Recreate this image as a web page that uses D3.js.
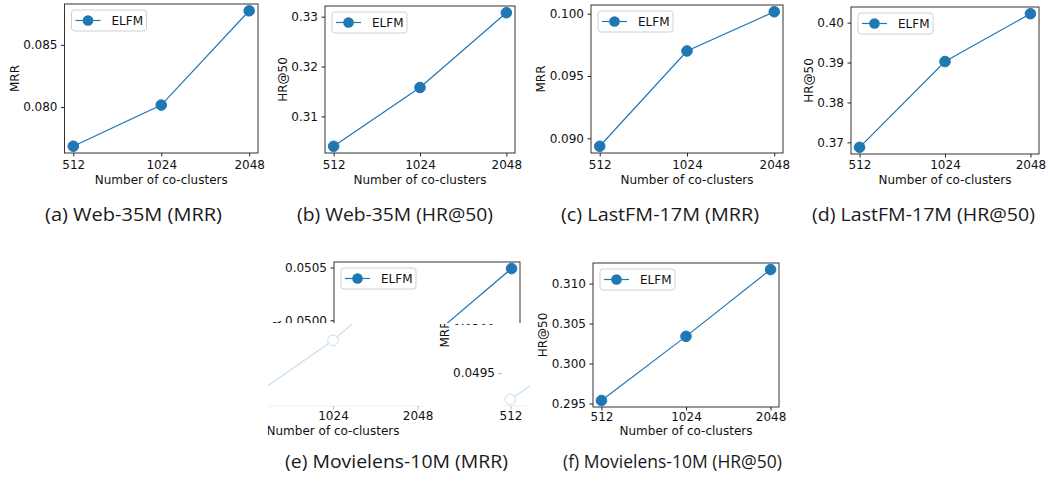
<!DOCTYPE html>
<html lang="en">
<head>
    <meta charset="UTF-8">
    <title>co-clusters</title>
    <style>
        body{
            margin:0px;
            background-color: white;
        }
        svg{
            display: block;
        }
        text{
            font-family: "DejaVu Sans", sans-serif;
        }
    </style>
</head>
<body>
    <svg></svg>

    <script src="https://d3js.org/d3.v7.min.js"></script>
    <script>
        // data
        const categories = ['512', '1024', '2048'];

        const webMRR = [0.07685, 0.08016, 0.08774];
        const webHR = [0.3040, 0.3158, 0.3308];
        const lastfmMRR = [0.08936, 0.09701, 0.10016];
        const lastfmHR = [0.36875, 0.39025, 0.40225];
        const mlMRR = [0.04925, 0.04981, 0.05049];
        const mlHR = [0.29538, 0.30340, 0.31176];

        const webMRRTicks = ['0.080', '0.085'];
        const webHRTicks = ['0.31', '0.32', '0.33'];
        const lastfmMRRTicks = ['0.090', '0.095', '0.100'];
        const lastfmHRTicks = ['0.37', '0.38', '0.39', '0.40'];
        const mlMRRTicks = ['0.0495', '0.0500', '0.0505'];
        const mlHRTicks = ['0.295', '0.300', '0.305', '0.310'];

        const yLabels = ['MRR', 'HR@50', 'MRR', 'HR@50', 'MRR', 'HR@50'];
        const captions = ['(a) Web-35M (MRR)', '(b) Web-35M (HR@50)', '(c) LastFM-17M (MRR)',
                          '(d) LastFM-17M (HR@50)', '(e) Movielens-10M (MRR)', '(f) Movielens-10M (HR@50)'];
        const seriesName = 'ELFM';

        const blue = '#1f77b4';

        let svg = d3.select('svg')
            .attr('width', 1048)
            .attr('height', 481);

        // panel boxes (layout only)
        const panels = [
            {values: webMRR, ticks: webMRRTicks, left: 64.5, right: 258, top: 4, bottom: 153, tickPad: 3.5, xlabelY: 183.5, capX: 133.5, capY: 221, capW: 177},
            {values: webHR, ticks: webHRTicks, left: 325, right: 515, top: 6, bottom: 153, tickPad: 3.5, xlabelY: 183.5, capX: 395, capY: 221, capW: 196},
            {values: lastfmMRR, ticks: lastfmMRRTicks, left: 591, right: 783, top: 5, bottom: 153, tickPad: 3.5, xlabelY: 183.5, capX: 660, capY: 221, capW: 198},
            {values: lastfmHR, ticks: lastfmHRTicks, left: 851, right: 1039, top: 7, bottom: 154, tickPad: 3, xlabelY: 183.5, capX: 923.5, capY: 221, capW: 223},
            {values: mlMRR, ticks: mlMRRTicks, left: 334, right: 520, top: 262, bottom: 406, tickPad: 2, xlabelY: 434.5, capX: 396.5, capY: 468, capW: 223},
            {values: mlHR, ticks: mlHRTicks, left: 593, right: 779, top: 263, bottom: 407, tickPad: 2, xlabelY: 434.5, capX: 672.5, capY: 468, capW: 219}
        ];
        panels.forEach((p, i) => { p.ylabel = yLabels[i]; p.caption = captions[i]; });

        function drawPanel(g, p, faded) {
            const x = d3.scalePoint()
                .domain(categories)
                .range([p.left, p.right])
                .padding(0.1);

            const ext = d3.extent(p.values);
            const pad = (ext[1] - ext[0]) * 0.05;
            const y = d3.scaleLinear()
                .domain([ext[0] - pad, ext[1] + pad])
                .range([p.bottom, p.top]);

            const tickColor = faded ? '#bbb' : '#222';

            // frame
            if (faded) {
                g.append('line')
                    .attr('x1', p.left).attr('x2', p.right)
                    .attr('y1', p.bottom).attr('y2', p.bottom)
                    .attr('stroke', '#eee');
            } else {
                g.append('rect')
                    .attr('x', p.left).attr('y', p.top)
                    .attr('width', p.right - p.left).attr('height', p.bottom - p.top)
                    .attr('fill', 'none')
                    .attr('stroke', '#333')
                    .attr('stroke-width', 1);
            }

            // y axis
            const yAxis = g.append('g')
                .attr('transform', `translate(${p.left},0)`)
                .call(d3.axisLeft(y)
                    .tickValues(p.ticks.map(Number))
                    .tickFormat((d, i) => p.ticks[i])
                    .tickSize(3.5)
                    .tickPadding(3.5));
            yAxis.select('.domain').remove();
            yAxis.selectAll('line').attr('stroke', tickColor);
            yAxis.selectAll('text')
                .attr('font-family', '"DejaVu Sans", sans-serif')
                .attr('font-size', 12)
                .attr('fill', '#111');

            // x axis
            const xAxis = g.append('g')
                .attr('transform', `translate(0,${p.bottom})`)
                .call(d3.axisBottom(x).tickSize(3.5).tickPadding(p.tickPad));
            xAxis.select('.domain').remove();
            xAxis.selectAll('line').attr('stroke', tickColor);
            xAxis.selectAll('text')
                .attr('font-family', '"DejaVu Sans", sans-serif')
                .attr('font-size', 12)
                .attr('fill', '#111');

            // axis labels
            const bx = yAxis.node().getBBox().x + p.left;
            g.append('text')
                .attr('transform', `translate(${bx - 4.5},${(p.top + p.bottom) / 2}) rotate(-90)`)
                .attr('text-anchor', 'middle')
                .attr('font-size', 12)
                .attr('fill', '#111')
                .text(p.ylabel);

            g.append('text')
                .attr('x', (p.left + p.right) / 2)
                .attr('y', p.xlabelY)
                .attr('text-anchor', 'middle')
                .attr('font-size', 12)
                .attr('fill', '#111')
                .text('Number of co-clusters');

            // line + markers
            const line = d3.line()
                .x((d, i) => x(categories[i]))
                .y(d => y(d));

            g.append('path')
                .datum(p.values)
                .attr('d', line)
                .attr('fill', 'none')
                .attr('stroke', faded ? '#c9def0' : blue)
                .attr('stroke-width', 1.2);

            g.selectAll('circle.pt')
                .data(p.values)
                .enter()
                .append('circle')
                .attr('class', 'pt')
                .attr('cx', (d, i) => x(categories[i]))
                .attr('cy', d => y(d))
                .attr('r', 5.3)
                .attr('fill', faded ? 'white' : blue)
                .attr('stroke', faded ? '#c9def0' : blue)
                .attr('stroke-width', 1);

            // legend
            const lx = p.left + 7, ly = p.top + 6;
            const leg = g.append('g').attr('transform', `translate(${lx},${ly})`);
            leg.append('rect')
                .attr('width', 75).attr('height', 21)
                .attr('rx', 3)
                .attr('fill', 'white')
                .attr('stroke', '#d0d0d0');
            leg.append('line')
                .attr('x1', 4).attr('x2', 29)
                .attr('y1', 10.5).attr('y2', 10.5)
                .attr('stroke', blue).attr('stroke-width', 1.2);
            leg.append('circle')
                .attr('cx', 16.5).attr('cy', 10.5).attr('r', 5.3)
                .attr('fill', blue);
            leg.append('text')
                .attr('x', 40).attr('y', 15)
                .attr('font-size', 12)
                .attr('fill', '#111')
                .text(seriesName);
        }

        // drop texts that end up (almost) fully outside a clip box
        function prune(g, x0, y0, x1, y1) {
            g.selectAll('text').each(function() {
                const r = this.getBoundingClientRect();
                if (r.right < x0 + 4 || r.left > x1 - 4 || r.bottom < y0 || r.top > y1) {
                    d3.select(this).remove();
                }
            });
        }

        const defs = svg.append('defs');
        defs.append('clipPath').attr('id', 'eTop')
            .append('rect').attr('x', 262).attr('y', 240).attr('width', 270).attr('height', 83);
        defs.append('clipPath').attr('id', 'eLow')
            .append('rect').attr('x', 268).attr('y', 324).attr('width', 262).attr('height', 124);

        panels.forEach((p, i) => {
            if (i === 4) {
                // this panel is broken in the source image: the lower part is shifted and faded
                const top = svg.append('g').attr('clip-path', 'url(#eTop)');
                drawPanel(top, p, false);
                prune(top, 262, 240, 532, 323);
                const low = svg.append('g').attr('clip-path', 'url(#eLow)');
                [-94, 168].forEach(dx => {
                    const c = low.append('g').attr('transform', `translate(${dx},0)`);
                    drawPanel(c, p, true);
                    prune(c, 268, 324, 530, 448);
                });
            } else {
                drawPanel(svg.append('g'), p, false);
            }

            svg.append('text')
                .attr('x', p.capX)
                .attr('y', p.capY)
                .attr('text-anchor', 'middle')
                .attr('font-size', 18)
                .attr('fill', '#1a1a1a')
                .attr('textLength', p.capW)
                .attr('lengthAdjust', 'spacingAndGlyphs')
                .style('font-family', '"Open Sans", sans-serif')
                .text(p.caption);
        });
    </script>
</body>
</html>
